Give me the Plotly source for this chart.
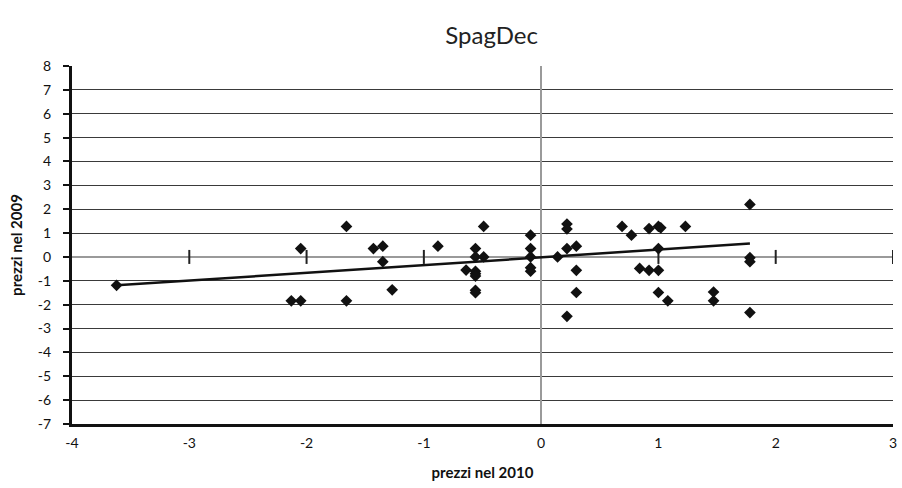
import plotly.graph_objects as go

# prezzi nel 2010 (x) vs prezzi nel 2009 (y)
x_2010 = [-3.62, -1.66, -2.05, -1.43, -1.35, -1.35, -1.27, -2.13, -2.05, -1.66,
          -0.88, -0.49, -0.56, -0.56, -0.49, -0.64, -0.56, -0.56, -0.56, -0.56, -0.56,
          -0.09, -0.09, -0.09, -0.09, -0.09,
          0.22, 0.22, 0.22, 0.30, 0.14, 0.30, 0.30, 0.22, 0.69, 0.77, 0.92, 1.00, 1.02,
          1.23, 1.00, 0.84, 0.92, 1.00, 1.00, 1.08,
          1.78, 1.78, 1.78, 1.47, 1.47, 1.78]
y_2009 = [-1.19, 1.28, 0.35, 0.35, 0.45, -0.20, -1.38, -1.84, -1.84, -1.84,
          0.45, 1.28, 0.35, 0.00, 0.00, -0.55, -0.60, -0.70, -0.80, -1.40, -1.50,
          0.91, 0.35, 0.00, -0.45, -0.60,
          1.38, 1.17, 0.35, 0.45, 0.00, -0.56, -1.49, -2.49, 1.28, 0.91, 1.19, 1.28, 1.22,
          1.28, 0.35, -0.48, -0.56, -0.56, -1.49, -1.84,
          2.20, -0.03, -0.20, -1.47, -1.84, -2.33]

# linear trend line coefficients (y = slope * x + intercept)
trend_slope = 0.324
trend_intercept = -0.017

x_ticks = [-4, -3, -2, -1, 0, 1, 2, 3]
y_ticks = list(range(-7, 9))
cross_ticks = [-3, -2, -1, 1, 2, 3]

FONT = "Lato"

trend_x = [min(x_2010), max(x_2010)]
trend_y = [trend_slope * v + trend_intercept for v in trend_x]

fig = go.Figure()

# small cross ticks on the horizontal zero axis
fig.add_trace(go.Scatter(
    x=cross_ticks, y=[0] * len(cross_ticks), mode="markers",
    marker=dict(symbol="line-ns", size=10, line=dict(color="#222", width=2)),
    hoverinfo="skip", showlegend=False))

fig.add_trace(go.Scatter(
    x=trend_x, y=trend_y, mode="lines",
    line=dict(color="#111", width=2.5), showlegend=False))

fig.add_trace(go.Scatter(
    x=x_2010, y=y_2009, mode="markers",
    marker=dict(symbol="diamond", size=9, color="#111"),
    showlegend=False))

fig.update_layout(
    width=902, height=488,
    margin=dict(l=72, r=5, t=66, b=64),
    paper_bgcolor="white", plot_bgcolor="white",
    font=dict(family=FONT, color="#111", size=14),
    title=dict(text="SpagDec", x=0.545, xanchor="center", y=0.928, yanchor="middle",
               font=dict(family=FONT, size=24, color="#222")),
    xaxis=dict(
        range=[-4, 3], tickvals=x_ticks, ticktext=[str(v) for v in x_ticks],
        showgrid=False, zeroline=True, zerolinecolor="#9a9a9a", zerolinewidth=2,
        showline=True, linecolor="#111", linewidth=3, ticks="",
        ticklabelstandoff=4,
        title=dict(text="<b>prezzi nel 2010</b>", standoff=18,
                   font=dict(family=FONT, size=15)),
        tickfont=dict(size=14)),
    yaxis=dict(
        range=[-7, 8], tickvals=y_ticks, ticktext=[str(v) for v in y_ticks],
        showgrid=True, gridcolor="#3a3a3a", gridwidth=1.2,
        zeroline=True, zerolinecolor="#9a9a9a", zerolinewidth=2,
        showline=True, linecolor="#111", linewidth=3,
        ticks="outside", ticklen=6, tickwidth=1.5, tickcolor="#111",
        ticklabelstandoff=9,
        title=dict(text="<b>prezzi nel 2009</b>", standoff=12,
                   font=dict(family=FONT, size=15)),
        tickfont=dict(size=14)),
)

fig.write_html("out.html")
